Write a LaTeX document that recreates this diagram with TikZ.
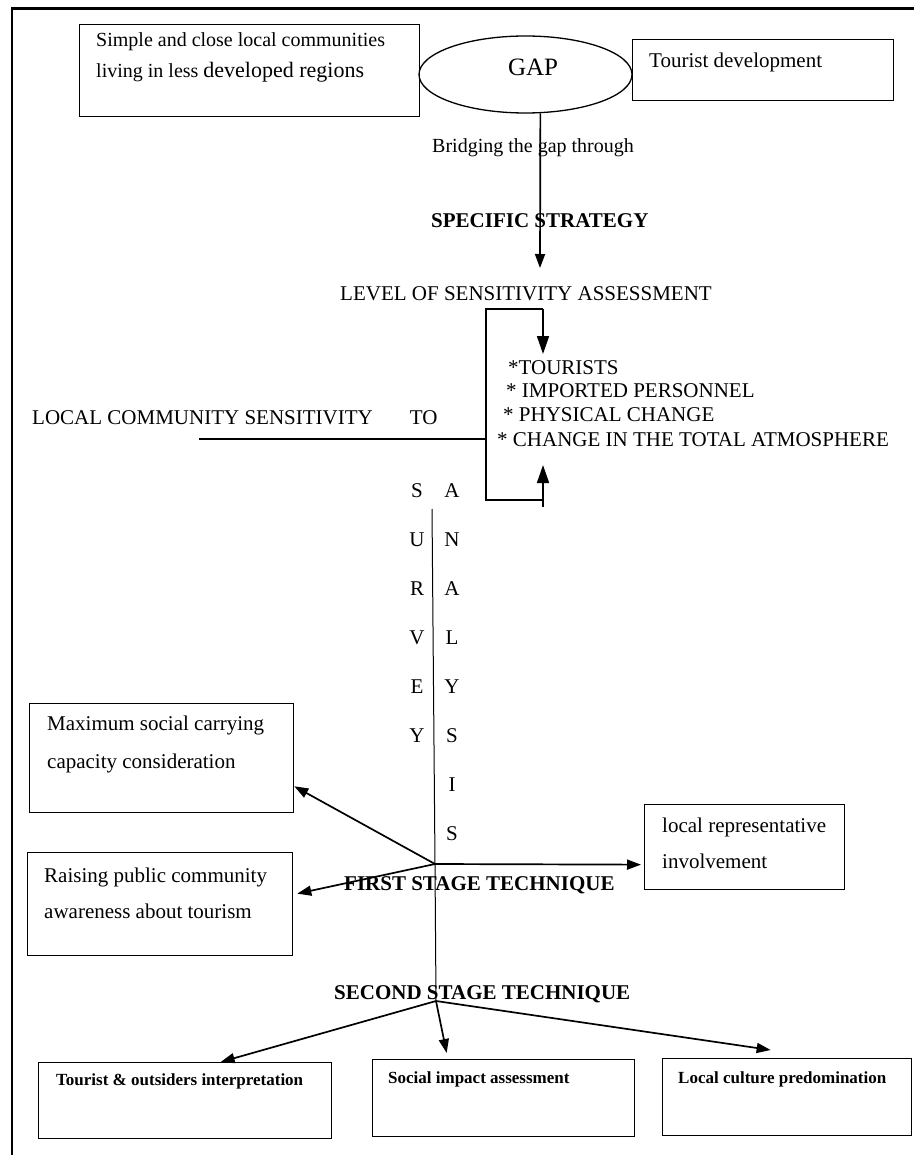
\documentclass[tikz,border=0pt]{standalone}
\usepackage{fontspec}
\setmainfont{Liberation Serif}
\usetikzlibrary{arrows.meta,shapes.geometric}

\begin{document}
\begin{tikzpicture}[x=1pt,y=-1pt,
  box/.style={draw, line width=1.3pt, rectangle, anchor=north west, inner sep=0pt},
  txt/.style={inner sep=0pt, anchor=base west, font=\fontsize{21}{25}\selectfont},
  boldtxt/.style={inner sep=0pt, anchor=base west, font=\fontsize{21}{25}\selectfont\bfseries},
  smallbold/.style={inner sep=0pt, anchor=base west, font=\fontsize{17}{20}\selectfont\bfseries},
  letter/.style={inner sep=0pt, anchor=base, font=\fontsize{21}{25}\selectfont},
  arr/.style={line width=1.7pt, -{Triangle[length=14pt,width=10pt]}},
  bigarr/.style={line width=1.7pt, -{Triangle[length=18pt,width=12pt]}}]

\useasboundingbox (0,0) rectangle (914,1155);

% Rámeček stránky
\draw[line width=2.5pt] (12,1155) -- (12,8.5) -- (914,8.5);

% Horní řada - komunity, GAP, turistický rozvoj
\node[box, minimum width=340, minimum height=92] (simplebox) at (79,24) {};
\node[txt, font=\fontsize{20}{24}\selectfont] (simpletxt) at (96,47) {Simple and close local communities};
\node[txt, font=\fontsize{20}{24}\selectfont] (livingtxt) at (96,78) {living in less {\fontsize{22}{26}\selectfont developed regions}};

\node[draw, ellipse, line width=1.3pt, inner sep=0pt, minimum width=213, minimum height=77] (gap) at (525.5,74.5) {};
\node[txt, anchor=base, font=\fontsize{25}{30}\selectfont] (gaptxt) at (533,76) {GAP};

\node[box, minimum width=261, minimum height=61] (tourdev) at (632,39) {};
\node[txt] (tourdevtxt) at (649,68) {Tourist development};

% Strategie
\coordinate (strattip) at (540,268);
\draw[arr] (gap.-69) -- (strattip);
\node[txt, font=\fontsize{20}{24}\selectfont] (bridgetxt) at (432,153) {Bridging the gap through};
\node[boldtxt] (strattxt) at (431,228) {SPECIFIC STRATEGY};
\node[txt] (leveltxt) at (340,301) {LEVEL OF SENSITIVITY ASSESSMENT};

% Závorka se šipkami
\coordinate (brtl) at (486,309);
\coordinate (brtr) at (543,309);
\coordinate (brdown) at (543,354);
\coordinate (brbl) at (486,500);
\coordinate (brbr) at (543,500);
\coordinate (brfoot) at (543,507);
\coordinate (brup) at (543,465);
\draw[line width=1.3pt] (brbr) -- (brbl) -- (brtl) -- (brtr);
\draw[bigarr] (brtr) -- (brdown);
\draw[bigarr] (brfoot) -- (brup);

\node[txt] (item1) at (508,374) {*TOURISTS};
\node[txt] (item2) at (506,397) {* IMPORTED PERSONNEL};
\node[txt] (item3) at (503,421) {* PHYSICAL CHANGE};
\node[txt] (item4) at (497,446) {* CHANGE IN THE TOTAL ATMOSPHERE};

\node[txt] (localtxt) at (32,424) {LOCAL COMMUNITY SENSITIVITY\hspace{37pt}TO};
\coordinate (sensline) at (199,439);
\draw[line width=1.3pt] (sensline) -- (brbl |- sensline);

% Survey / analysis - svislé písmo
\foreach \ch [count=\i from 0] in {S,U,R,V,E,Y}
  \node[letter] (surv\i) at (417,497+49.1*\i) {\ch};
\foreach \ch [count=\i from 0] in {A,N,A,L,Y,S,I,S}
  \node[letter] (anal\i) at (452,497+49.1*\i) {\ch};

\coordinate (survtop) at (432,509);
\coordinate (hubone) at (435,864);
\coordinate (hubtwo) at (436,1001);
\draw[line width=1pt] (survtop) -- (hubone) -- (hubtwo);

% První stupeň
\node[box, minimum width=264, minimum height=109] (maxbox) at (29,703) {};
\node[txt] (maxtxt1) at (47,730) {Maximum social carrying};
\node[txt] (maxtxt2) at (47,768) {capacity consideration};

\node[box, minimum width=265, minimum height=103] (raisebox) at (27,852) {};
\node[txt] (raisetxt1) at (44,882) {Raising public community};
\node[txt] (raisetxt2) at (44,918) {awareness about tourism};

\node[box, minimum width=200, minimum height=85] (repbox) at (644,804) {};
\node[txt] (reptxt1) at (662,832) {local representative};
\node[txt] (reptxt2) at (662,868) {involvement};

\draw[arr] (hubone) -- ([yshift=27pt]maxbox.south east);
\draw[arr] (hubone) -- ([shift={(4pt,10.5pt)}]raisebox.east);
\draw[arr] (hubone) -- ([shift={(-3pt,-17.5pt)}]repbox.west);

\node[boldtxt] (firsttxt) at (344,890) {FIRST STAGE TECHNIQUE};

% Druhý stupeň
\node[boldtxt] (secondtxt) at (334,999) {SECOND STAGE TECHNIQUE};

\node[box, minimum width=293, minimum height=76] (tourbox) at (38,1062) {};
\node[smallbold] (tourtxt) at (56,1085) {Tourist \& outsiders interpretation};
\node[box, minimum width=262, minimum height=77] (socbox) at (372,1059) {};
\node[smallbold] (soctxt) at (388,1083) {Social impact assessment};
\node[box, minimum width=249, minimum height=77] (cultbox) at (662,1058) {};
\node[smallbold] (culttxt) at (678,1083) {Local culture predomination};

\draw[arr] (hubtwo) -- ([xshift=35.5pt]tourbox.north);
\draw[arr] (hubtwo) -- ([shift={(-57pt,6pt)}]socbox.north);
\draw[arr] (hubtwo) -- ([shift={(-16.5pt,8pt)}]cultbox.north);
\end{tikzpicture}
\end{document}
